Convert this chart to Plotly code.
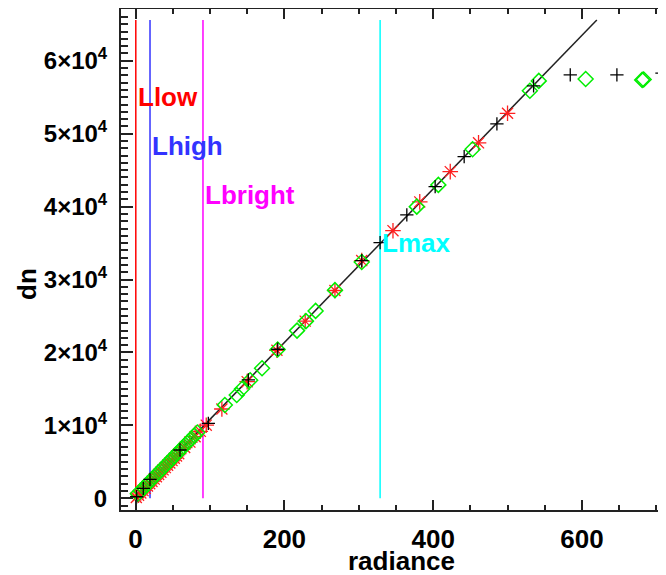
import plotly.graph_objects as go

# ---- data ----
black_rad = [1.5, 10.4, 19.4, 59.7, 97.8, 151.6, 191.1, 304.1, 328.7, 364.6, 402.7, 441.7, 485.7, 535.0, 584.3, 647.0, 707.6]
black_dn = [220, 1370, 2600, 6630, 10290, 16230, 20440, 32600, 35060, 38860, 42740, 46860, 51340, 56560, 58070, 58070, 58300]

red_rad = [1, 4, 7, 10, 13, 16, 19, 22, 25, 28, 31, 34, 37, 40, 43, 46, 49, 52, 55, 58,
           66, 73, 80, 87, 95, 116, 150, 190, 228, 268, 304, 346, 382, 423, 461, 500]
red_dn = [110, 420, 740, 1060, 1370, 1690, 2010, 2320, 2640, 2960, 3270, 3590, 3910, 4220, 4540, 4860, 5170, 5490, 5810, 6120,
          6970, 7710, 8450, 9190, 10030, 12250, 16000, 20300, 24300, 28500, 32600, 36700, 40650, 44800, 48750, 52800]

green_rad = [3, 7, 11, 15, 19, 23, 27, 31, 35, 39, 43, 47, 51, 55, 59, 63, 67, 71, 75, 79, 83,
             120, 136, 143, 154, 170, 191, 217, 229, 242, 268, 304, 378, 407, 453, 530, 542, 605, 681, 683]
green_dn = [620, 1040, 1460, 1880, 2300, 2720, 3140, 3560, 3980, 4400, 4820, 5240, 5660, 6080, 6500, 6920, 7340, 7760, 8180, 8600, 9020,
            12800, 14170, 15000, 16200, 17830, 20400, 23000, 24300, 25700, 28550, 32400, 40000, 42980, 47870, 55900, 57240, 57510, 57380, 57430]

fit_rad = [0, 620]
fit_dn = [300, 65600]

limit_names = ["Llow", "Lhigh", "Lbright", "Lmax"]
limit_rad = [0.3, 19.4, 90.6, 328.7]
limit_colors = ["#ff0000", "#3333ff", "#ff00ff", "#00ffff"]
limit_label_dn = [55050, 48330, 41600, 35020]
limit_line_dn = [0, 65600]

x_tickvals = [0, 200, 400, 600]
y_tickvals = [0, 10000, 20000, 30000, 40000, 50000, 60000]
y_ticktext = ["0", "1×10<sup>4</sup>", "2×10<sup>4</sup>", "3×10<sup>4</sup>",
              "4×10<sup>4</sup>", "5×10<sup>4</sup>", "6×10<sup>4</sup>"]

FONT = "Liberation Sans"
AX = "#222222"
# page has an 8px body margin; work in figure coords = page coords - 8
OFF = 8
W, H = 666 - OFF, 575 - OFF
L, T = 121 - OFF, 9 - OFF
R = 0
B = H - (510 - OFF)
pw, ph = W - L - R, H - T - B

fig = go.Figure()

for name, xr, col in zip(limit_names, limit_rad, limit_colors):
    fig.add_trace(go.Scatter(x=[xr, xr], y=limit_line_dn, mode="lines",
                             line=dict(color=col, width=1.5), hoverinfo="skip"))

fig.add_trace(go.Scatter(x=fit_rad, y=fit_dn, mode="lines",
                         line=dict(color="#222222", width=1.5)))

fig.add_trace(go.Scatter(x=red_rad, y=red_dn, mode="markers",
                         marker=dict(symbol="asterisk-open", size=13, color="#ff2020",
                                     line=dict(color="#ff2020", width=1.3))))
fig.add_trace(go.Scatter(x=green_rad, y=green_dn, mode="markers",
                         marker=dict(symbol="diamond-open", size=11.5, color="#00ee00",
                                     line=dict(color="#00ee00", width=1.5))))
fig.add_trace(go.Scatter(x=black_rad, y=black_dn, mode="markers",
                         marker=dict(symbol="cross-thin-open", size=9.5, color="black",
                                     line=dict(color="black", width=1.3))))

for name, xr, col, yl in zip(limit_names, limit_rad, limit_colors, limit_label_dn):
    fig.add_annotation(x=xr, y=yl, xref="x", yref="y", text=name, showarrow=False,
                       xanchor="left", yanchor="middle", xshift=0,
                       font=dict(family=FONT, size=26, color=col, weight="bold"))

# axis titles positioned by page-pixel centre
fig.add_annotation(x=(401 - OFF - L) / pw, y=(H - B - (561 - OFF)) / ph, xref="paper", yref="paper",
                   text="radiance", showarrow=False, xanchor="center", yanchor="middle",
                   font=dict(family=FONT, size=26, color="black", weight="bold"))
fig.add_annotation(x=(27 - OFF - L) / pw, y=(H - B - (284 - OFF)) / ph, xref="paper", yref="paper",
                   text="dn", showarrow=False, textangle=-90, xanchor="center", yanchor="middle",
                   font=dict(family=FONT, size=26, color="black", weight="bold"))

fig.update_layout(
    width=W, height=H, margin=dict(l=L, r=R, t=T, b=B, autoexpand=False),
    plot_bgcolor="white", paper_bgcolor="white", showlegend=False,
)
fig.update_xaxes(
    range=[-19.6, 713], showgrid=False, zeroline=False, automargin=False,
    showline=True, linecolor=AX, linewidth=2, mirror="ticks",
    ticks="inside", ticklen=10, tickwidth=1.5, tickcolor=AX,
    tickmode="array", tickvals=x_tickvals,
    tickfont=dict(family=FONT, size=26, color="black", weight="bold"),
    ticklabelstandoff=5,
    minor=dict(tickmode="linear", tick0=0, dtick=50, ticks="inside", ticklen=5,
               tickwidth=1.5, tickcolor=AX, showgrid=False),
)
fig.update_yaxes(
    range=[-1600, 67100], showgrid=False, zeroline=False, automargin=False,
    showline=True, linecolor=AX, linewidth=2,
    ticks="inside", ticklen=12, tickwidth=1.5, tickcolor=AX,
    tickmode="array", tickvals=y_tickvals, ticktext=y_ticktext,
    tickfont=dict(family=FONT, size=24, color="black", weight="bold"),
    ticklabelstandoff=7,
    minor=dict(tickmode="linear", tick0=0, dtick=1000, ticks="inside", ticklen=7,
               tickwidth=1.5, tickcolor=AX, showgrid=False),
)

fig.write_html("out.html")
